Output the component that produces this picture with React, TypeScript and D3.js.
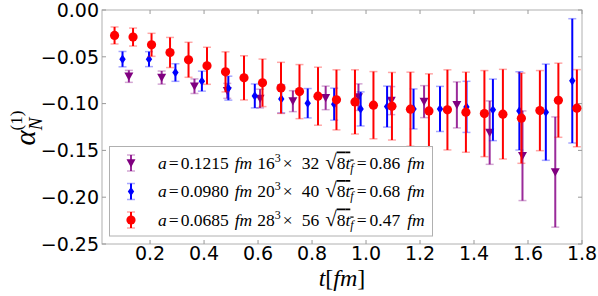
import React from "react";
import * as d3 from "d3";

const xTicks = [0.2, 0.4, 0.6, 0.8, 1.0, 1.2, 1.4, 1.6, 1.8];
const yTicks = [0, -0.05, -0.1, -0.15, -0.2, -0.25];

// a = 0.1215 fm (purple, triangles)
const purpleA = 0.1215;
const purpleVal = [-0.0709, -0.0722, -0.0814, -0.0864, -0.0946, -0.0974, -0.0939, -0.0931, -0.0968, -0.0979, -0.1014, -0.131, -0.1557, -0.1731];
const purpleErr = [0.0064, 0.007, 0.0078, 0.008, 0.01, 0.0112, 0.0126, 0.0142, 0.015, 0.0171, 0.0246, 0.0339, 0.0479, 0.0589];

// a = 0.0980 fm (blue, diamonds)
const blueA = 0.098;
const blueVal = [-0.0525, -0.0525, -0.0668, -0.076, -0.0835, -0.0918, -0.095, -0.0996, -0.1006, -0.1057, -0.1032, -0.1057, -0.1057, -0.1035, -0.1067, -0.1078, -0.1092, -0.0757];
const blueErr = [0.0082, 0.008, 0.0094, 0.0107, 0.0128, 0.0128, 0.015, 0.0157, 0.0171, 0.0182, 0.0219, 0.0214, 0.0241, 0.0273, 0.0329, 0.0418, 0.0514, 0.0664];

// a = 0.0685 fm (red, circles)
const redA = 0.0685;
const redVal = [-0.0272, -0.0289, -0.0372, -0.0454, -0.0532, -0.0596, -0.0661, -0.0725, -0.0778, -0.0832, -0.0872, -0.0921, -0.096, -0.0982, -0.1017, -0.1028, -0.106, -0.1078, -0.1067, -0.1092, -0.1107, -0.1113, -0.1156, -0.1075, -0.0964, -0.1049];
const redErr = [0.0091, 0.0096, 0.0123, 0.0161, 0.0187, 0.0198, 0.0214, 0.0236, 0.0254, 0.0273, 0.0289, 0.031, 0.0321, 0.0343, 0.0359, 0.0361, 0.0396, 0.0396, 0.0428, 0.0428, 0.046, 0.0479, 0.0482, 0.0428, 0.0396, 0.0412];

const legendSpacing = ["0.1215", "0.0980", "0.0685"];
const legendL = ["16", "20", "28"];
const legendT = ["32", "40", "56"];
const legendSqrt = ["0.86", "0.68", "0.47"];

type Kind = "tri" | "dia" | "circ";
const series: { a: number; val: number[]; err: number[]; color: string; bar: string; kind: Kind }[] = [
  { a: purpleA, val: purpleVal, err: purpleErr, color: "#800080", bar: "#9a2a9a", kind: "tri" },
  { a: blueA, val: blueVal, err: blueErr, color: "#0000ff", bar: "#0000ff", kind: "dia" },
  { a: redA, val: redVal, err: redErr, color: "#ff0000", bar: "#ff0000", kind: "circ" },
];

const W = 598, H = 296;
const L = 102, R = 582, T = 10, B = 244;

function Marker({ kind, cx, cy, color }: { kind: Kind; cx: number; cy: number; color: string }) {
  if (kind === "circ") return <circle cx={cx} cy={cy} r={4.6} fill={color} />;
  if (kind === "dia")
    return <path d={`M${cx},${cy - 4.6}L${cx + 3.2},${cy}L${cx},${cy + 4.6}L${cx - 3.2},${cy}Z`} fill={color} />;
  return <path d={`M${cx - 4.5},${cy - 3.8}L${cx + 4.5},${cy - 3.8}L${cx},${cy + 4.4}Z`} fill={color} />;
}

function ErrBar({ cx, y0, y1, bar, cap }: { cx: number; y0: number; y1: number; bar: string; cap: string }) {
  return (
    <g>
      <line x1={cx} x2={cx} y1={y0} y2={y1} stroke={bar} strokeWidth={2} />
      <line x1={cx - 4} x2={cx + 4} y1={y0} y2={y0} stroke={cap} strokeOpacity={0.35} strokeWidth={1.5} />
      <line x1={cx - 4} x2={cx + 4} y1={y1} y2={y1} stroke={cap} strokeOpacity={0.35} strokeWidth={1.5} />
    </g>
  );
}

export default function App() {
  const x = d3.scaleLinear().domain([0.022, 1.8]).range([L, R]);
  const y = d3.scaleLinear().domain([-0.25, 0]).range([B, T]);
  const serif = "'Liberation Serif', 'DejaVu Serif', serif";
  const tickFont = "'DejaVu Sans', sans-serif";
  const fmt = (v: number) => (v < 0 ? "\u2212" : "") + Math.abs(v).toFixed(2);
  const fmtX = (v: number) => v.toFixed(1);
  const legY = [163, 191.5, 220];

  return (
    <svg width={W} height={H} style={{ position: "absolute", left: 0, top: 0 }}>
      <rect width={W} height={H} fill="#fff" />
      {/* frame */}
      <rect x={L} y={T} width={R - L} height={B - T} fill="none" stroke="#b0b0b0" strokeWidth={1} />
      {/* ticks */}
      {xTicks.map((t) => (
        <g key={"xt" + t}>
          <line x1={x(t)} x2={x(t)} y1={B} y2={B - 4} stroke="#999" />
          <line x1={x(t)} x2={x(t)} y1={T} y2={T + 4} stroke="#999" />
          <text x={x(t)} y={259.5} textAnchor="middle" fontFamily={tickFont} fontSize={19} fill="#000">
            {fmtX(t)}
          </text>
        </g>
      ))}
      {yTicks.map((t) => (
        <g key={"yt" + t}>
          <line x1={L} x2={L + 4} y1={y(t)} y2={y(t)} stroke="#999" />
          <line x1={R} x2={R - 4} y1={y(t)} y2={y(t)} stroke="#999" />
          <text x={99} y={y(t)} dy="0.36em" textAnchor="end" fontFamily={tickFont} fontSize={19} fill="#000">
            {fmt(t)}
          </text>
        </g>
      ))}
      {/* data */}
      {series.map((s, si) => (
        <g key={"s" + si}>
          {s.val.map((v, i) => {
            const t = (i + 1) * s.a;
            return (
              <ErrBar key={"e" + i} cx={x(t)} y0={y(v + s.err[i])} y1={y(v - s.err[i])} bar={s.bar} cap={s.color} />
            );
          })}
          {s.val.map((v, i) => {
            const t = (i + 1) * s.a;
            return <Marker key={"m" + i} kind={s.kind} cx={x(t)} cy={y(v)} color={s.color} />;
          })}
        </g>
      ))}
      {/* legend */}
      <rect x={109.5} y={146.5} width={323} height={89.5} fill="#fff" fillOpacity={0.9} stroke="#b0b0b0" strokeWidth={1} />
      {series.map((s, si) => {
        const cy = legY[si];
        return (
          <g key={"lg" + si}>
            <ErrBar cx={131} y0={cy - 8} y1={cy + 8} bar={s.bar} cap={s.color} />
            <Marker kind={s.kind} cx={131} cy={cy} color={s.color} />
            <text x={158} y={cy + 5.5} fontFamily={serif} fontSize={17.5} fill="#000">
              <tspan fontStyle="italic">a</tspan>
              <tspan dx={2}>=</tspan>
              <tspan dx={2}>{legendSpacing[si]}</tspan>
              <tspan fontStyle="italic" dx={6}>fm</tspan>
              <tspan dx={5}>{legendL[si]}</tspan>
              <tspan fontSize={12} dy={-7}>3</tspan>
              <tspan dy={7} dx={2}>×</tspan>
              <tspan dx={9}>{legendT[si]}</tspan>
              <tspan dx={6} fontSize={21}>√</tspan>
              <tspan style={{ textDecoration: "overline" }}>8<tspan fontStyle="italic">t</tspan><tspan fontStyle="italic" fontSize={12} dy={3}>f</tspan></tspan>
              <tspan dy={-3} dx={3}>=</tspan>
              <tspan dx={3}>{legendSqrt[si]}</tspan>
              <tspan fontStyle="italic" dx={7}>fm</tspan>
            </text>
          </g>
        );
      })}
      {/* axis labels */}
      <text x={342} y={285.5} textAnchor="middle" fontFamily={serif} fontSize={24} fill="#000">
        <tspan fontStyle="italic">t</tspan>
        <tspan>[</tspan>
        <tspan fontStyle="italic">fm</tspan>
        <tspan>]</tspan>
      </text>
      <text transform="translate(35,128) rotate(-90)" textAnchor="middle" fontFamily={serif} fontSize={29} fill="#000">
        <tspan fontStyle="italic">α</tspan>
        <tspan fontStyle="italic" fontSize={19} dy={7}>N</tspan>
        <tspan fontSize={17} dy={-20} dx={-13}>(1)</tspan>
      </text>
    </svg>
  );
}
